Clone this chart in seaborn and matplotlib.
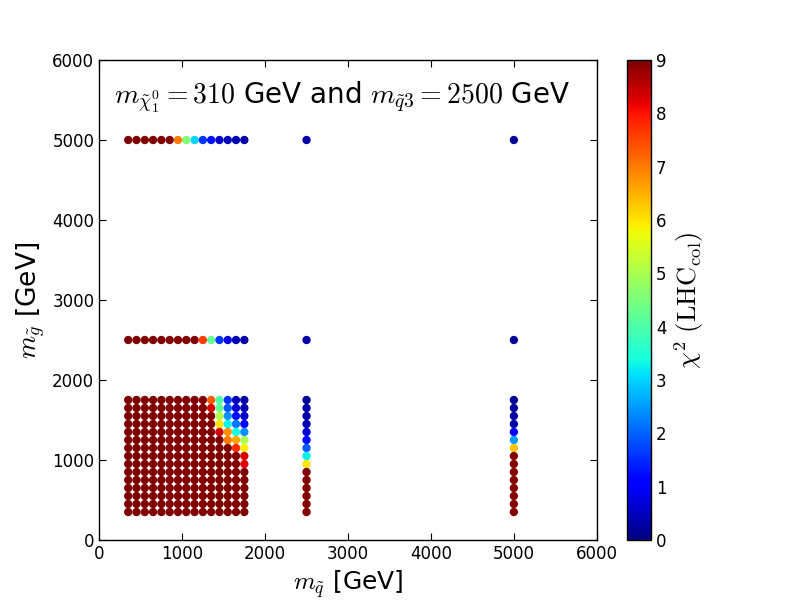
import numpy as np
import pandas as pd
import matplotlib
matplotlib.use("Agg")
import matplotlib.pyplot as plt
import seaborn as sns

# squark / gluino grid (GeV)
grid_masses = [350, 450, 550, 650, 750, 850, 950, 1050, 1150, 1250, 1350, 1450, 1550, 1650, 1750]
extra_masses = [2500, 5000]

# chi^2 on the low grid, rows = gluino mass from 1750 down to 350, cols = squark mass 350..1750
chi2_g1750 = [9, 9, 9, 9, 9, 9, 9, 9, 9, 9, 7.3, 4.0, 1.6, 0.5, 0.3]
chi2_g1650 = [9, 9, 9, 9, 9, 9, 9, 9, 9, 9, 8.3, 4.2, 1.9, 0.7, 0.4]
chi2_g1550 = [9, 9, 9, 9, 9, 9, 9, 9, 9, 9, 9, 5.1, 2.4, 1.3, 0.6]
chi2_g1450 = [9, 9, 9, 9, 9, 9, 9, 9, 9, 9, 9, 6.0, 3.3, 2.2, 1.1]
chi2_g1350 = [9, 9, 9, 9, 9, 9, 9, 9, 9, 9, 9, 8.3, 6.8, 3.4, 2.4]
chi2_g1250 = [9, 9, 9, 9, 9, 9, 9, 9, 9, 9, 9, 9, 7.0, 6.6, 5.0]
chi2_g1150 = [9, 9, 9, 9, 9, 9, 9, 9, 9, 9, 9, 9, 9, 7.8, 5.9]
chi2_g1050 = [9, 9, 9, 9, 9, 9, 9, 9, 9, 9, 9, 9, 9, 9, 8.3]
chi2_g950 = [9, 9, 9, 9, 9, 9, 9, 9, 9, 9, 9, 9, 9, 9, 8.2]
chi2_g850 = [9] * 15
chi2_g750 = [9] * 15
chi2_g650 = [9] * 15
chi2_g550 = [9] * 15
chi2_g450 = [9] * 15
chi2_g350 = [9] * 15

# heavy gluino rows (squark mass 350..1750)
chi2_g2500 = [9, 9, 9, 9, 9, 9, 9, 9, 9, 7.6, 4.2, 1.6, 0.8, 0.4, 0.3]
chi2_g5000 = [9, 9, 9, 9, 9, 9, 7.0, 4.6, 3.0, 1.6, 1.3, 0.6, 0.5, 0.4, 0.3]

# heavy squark columns, gluino mass 1750 down to 350, then 2500, 5000
chi2_q2500 = [0.2, 0.3, 0.3, 0.4, 0.7, 1.2, 1.9, 3.2, 6.0, 9, 9, 9, 9, 9, 9]
chi2_q2500_heavy = [0.3, 0.3]
chi2_q5000 = [0.2, 0.2, 0.3, 0.3, 1.0, 2.5, 6.3, 9, 9, 9, 9, 9, 9, 9, 9]
chi2_q5000_heavy = [0.2, 0.2]

low_rows = [chi2_g1750, chi2_g1650, chi2_g1550, chi2_g1450, chi2_g1350, chi2_g1250,
            chi2_g1150, chi2_g1050, chi2_g950, chi2_g850, chi2_g750, chi2_g650,
            chi2_g550, chi2_g450, chi2_g350]
gl_desc = grid_masses[::-1]

recs = []
for mg, row in zip(gl_desc, low_rows):
    for mq, c in zip(grid_masses, row):
        recs.append((mq, mg, c))
for mg, row in zip(extra_masses, [chi2_g2500, chi2_g5000]):
    for mq, c in zip(grid_masses, row):
        recs.append((mq, mg, c))
for mq, col, heavy in [(2500, chi2_q2500, chi2_q2500_heavy), (5000, chi2_q5000, chi2_q5000_heavy)]:
    for mg, c in zip(gl_desc, col):
        recs.append((mq, mg, c))
    for mg, c in zip(extra_masses, heavy):
        recs.append((mq, mg, c))
df = pd.DataFrame(recs, columns=["msq", "mgl", "chi2"])

sns.set_style("ticks")
plt.rcParams["mathtext.fontset"] = "cm"
plt.rcParams["font.family"] = ["DejaVu Sans"]
plt.rcParams["text.color"] = "black"
plt.rcParams["axes.labelcolor"] = "black"
plt.rcParams["xtick.color"] = "black"
plt.rcParams["ytick.color"] = "black"

fig = plt.figure(figsize=(8, 6), dpi=100)
ax = fig.add_axes([0.124, 0.1, 0.622, 0.8])
cax = fig.add_axes([0.784, 0.1, 0.030, 0.8])

jet = plt.get_cmap("jet")
vmin, vmax = 0, 9
sns.scatterplot(data=df, x="msq", y="mgl", hue="chi2", palette=jet,
                hue_norm=(vmin, vmax), s=36, linewidth=0, legend=False, ax=ax)

ax.set_xlim(0, 6000)
ax.set_ylim(0, 6000)
ax.set_xticks([0, 1000, 2000, 3000, 4000, 5000, 6000])
ax.set_yticks([0, 1000, 2000, 3000, 4000, 5000, 6000])
ax.tick_params(direction="in", top=True, right=True, labelsize=12, length=5)
for sp in ax.spines.values():
    sp.set_color("black")
    sp.set_linewidth(1)
ax.set_xlabel(r"$m_{\tilde{q}}$ [GeV]", fontsize=18)
ax.set_ylabel(r"$m_{\tilde{g}}$ [GeV]", fontsize=19)
ax.text(2930, 5540, r"$m_{\tilde{\chi}^0_1}=310$ GeV and $m_{\tilde{q}3}=2500$ GeV",
        ha="center", va="center", fontsize=20)

sm = plt.cm.ScalarMappable(cmap=jet, norm=plt.Normalize(vmin, vmax))
cb = fig.colorbar(sm, cax=cax, ticks=range(0, 10))
cb.ax.tick_params(labelsize=12, direction="in", length=5, color="black")
cb.outline.set_linewidth(1)
cb.outline.set_edgecolor("black")
cb.set_label(r"$\chi^2\ (\mathrm{LHC_{col}})$", fontsize=19)

fig.savefig("out.png", dpi=100)
